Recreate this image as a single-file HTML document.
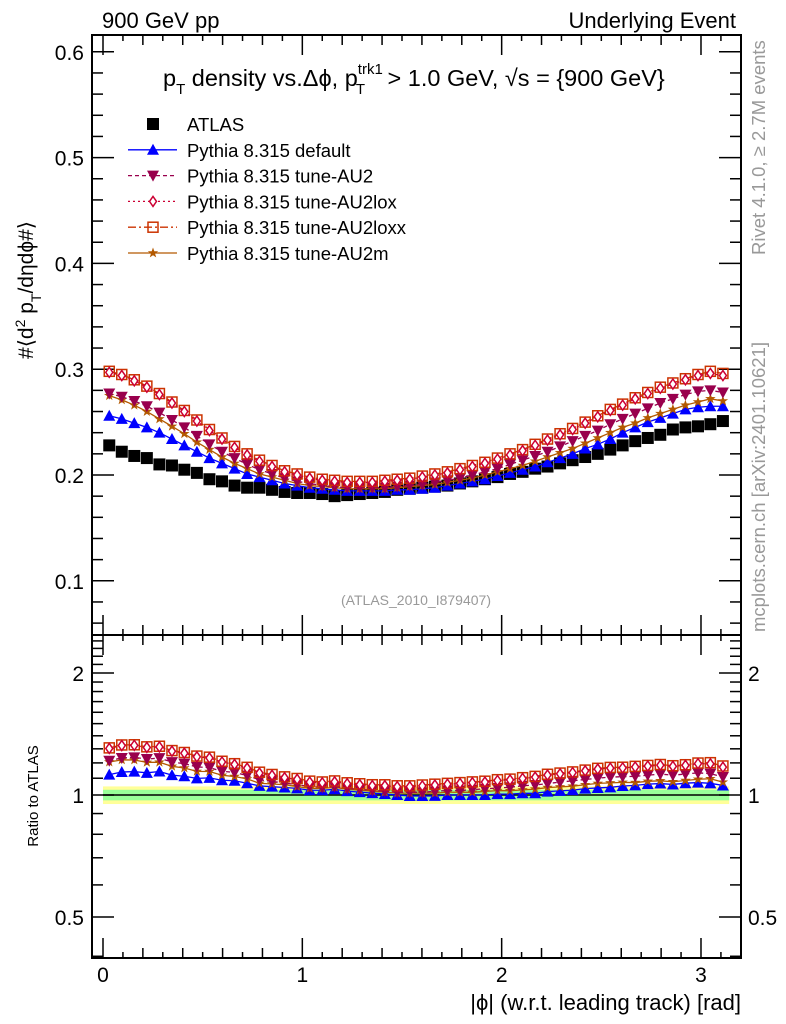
<!DOCTYPE html>
<html><head><meta charset="utf-8">
<style>
body{margin:0;background:#fff;}
svg{display:block;font-family:"Liberation Sans",sans-serif;}
</style></head>
<body>
<svg id="c" width="786" height="1024" viewBox="0 0 786 1024" xmlns="http://www.w3.org/2000/svg"></svg>
<script>
const categories = [0.0314,0.0942,0.157,0.22,0.283,0.346,0.408,0.471,0.534,0.597,0.66,0.723,0.785,0.848,0.911,0.974,1.037,1.1,1.162,1.225,1.288,1.351,1.414,1.476,1.539,1.602,1.665,1.728,1.791,1.853,1.916,1.979,2.042,2.105,2.168,2.23,2.293,2.356,2.419,2.482,2.545,2.607,2.67,2.733,2.796,2.859,2.922,2.985,3.047,3.11];
const atlas = [0.228,0.222,0.218,0.216,0.210,0.209,0.205,0.202,0.196,0.194,0.190,0.188,0.188,0.186,0.184,0.183,0.183,0.182,0.180,0.181,0.182,0.183,0.184,0.186,0.187,0.188,0.189,0.190,0.192,0.194,0.196,0.198,0.201,0.203,0.206,0.208,0.211,0.214,0.217,0.220,0.224,0.228,0.232,0.235,0.238,0.243,0.245,0.246,0.248,0.251];
const pyDefault = [0.256,0.253,0.249,0.245,0.240,0.234,0.228,0.222,0.216,0.211,0.206,0.201,0.198,0.195,0.192,0.190,0.188,0.187,0.186,0.185,0.185,0.185,0.185,0.186,0.186,0.187,0.188,0.190,0.192,0.194,0.196,0.199,0.202,0.205,0.208,0.212,0.216,0.220,0.225,0.229,0.234,0.240,0.245,0.250,0.254,0.258,0.262,0.264,0.265,0.265];
const pyAU2 = [0.277,0.274,0.270,0.265,0.259,0.252,0.245,0.237,0.229,0.222,0.216,0.210,0.205,0.201,0.197,0.194,0.192,0.190,0.189,0.188,0.188,0.188,0.188,0.189,0.190,0.191,0.193,0.195,0.197,0.200,0.203,0.206,0.210,0.214,0.218,0.222,0.227,0.232,0.237,0.242,0.248,0.253,0.258,0.263,0.268,0.272,0.276,0.279,0.280,0.278];
const pyAU2lox = [0.297,0.294,0.289,0.283,0.276,0.268,0.260,0.251,0.242,0.234,0.226,0.219,0.213,0.208,0.203,0.200,0.197,0.195,0.194,0.193,0.193,0.193,0.194,0.195,0.196,0.198,0.200,0.202,0.205,0.208,0.211,0.215,0.219,0.223,0.228,0.233,0.238,0.243,0.249,0.255,0.261,0.266,0.272,0.277,0.282,0.286,0.290,0.294,0.296,0.294];
const pyAU2loxx = [0.298,0.295,0.290,0.284,0.277,0.269,0.261,0.252,0.243,0.235,0.227,0.220,0.214,0.209,0.204,0.201,0.198,0.196,0.195,0.194,0.194,0.194,0.195,0.196,0.197,0.199,0.201,0.203,0.206,0.209,0.212,0.216,0.220,0.224,0.229,0.234,0.239,0.244,0.250,0.256,0.262,0.267,0.273,0.278,0.283,0.287,0.291,0.295,0.298,0.296];
const pyAU2m = [0.275,0.271,0.266,0.260,0.253,0.246,0.239,0.231,0.224,0.217,0.211,0.206,0.201,0.198,0.195,0.192,0.190,0.189,0.188,0.187,0.187,0.187,0.187,0.188,0.189,0.190,0.191,0.193,0.195,0.197,0.200,0.203,0.206,0.209,0.213,0.217,0.221,0.225,0.230,0.235,0.240,0.245,0.249,0.254,0.258,0.262,0.266,0.269,0.272,0.270];
const xTicks = [0,1,2,3];
const yTicks = [0.1,0.2,0.3,0.4,0.5,0.6];
const rTicks = [0.5,1,2];

const NS="http://www.w3.org/2000/svg";
const svg=document.getElementById('c');
function mk(tag,attrs,parent){const e=document.createElementNS(NS,tag);for(const k in attrs)e.setAttribute(k,attrs[k]);(parent||svg).appendChild(e);return e;}
const L=92,R=741,T=35,MB=635,RB=958;
const X=v=>103+(v)*199.33;
const Y=v=>475-(v-0.2)*1058;
const RY=v=>795-Math.log2(v)*122;

const yb=mk('rect',{x:X(0),y:RY(1.05),width:X(3.1416)-X(0),height:RY(0.95)-RY(1.05),fill:'#ffff99'});


const gb=mk('rect',{x:X(0),y:RY(1.03),width:X(3.1416)-X(0),height:RY(0.97)-RY(1.03),fill:'#99ff99'});


const one=mk('line',{x1:X(0),x2:X(3.1416),y1:RY(1),y2:RY(1),stroke:'#000','stroke-width':1.5});



const f1=mk('rect',{x:L,y:T,width:R-L,height:MB-T,fill:'none',stroke:'#000','stroke-width':2});


const f2=mk('rect',{x:L,y:MB,width:R-L,height:RB-MB,fill:'none',stroke:'#000','stroke-width':2});



function xt(y0,dir){for(let i=0;i<=32;i++){const v=i/10;const x=X(v);const len=i%10==0?20:(i%2==0?10:6);
 mk('line',{x1:x,x2:x,y1:y0,y2:y0+dir*len,stroke:'#000','stroke-width':1.5});}}
xt(T,1);xt(MB,-1);xt(MB,1);xt(RB,-1);
for(let i=3;i<=30;i++){const v=i/50;const y=Y(v);if(y<T||y>MB)continue;const len=i%5==0?22:11;
 mk('line',{x1:L,x2:L+len,y1:y,y2:y,stroke:'#000','stroke-width':1.5});
 mk('line',{x1:R,x2:R-len,y1:y,y2:y,stroke:'#000','stroke-width':1.5});}
const rminor=[0.4,0.5,0.6,0.7,0.8,0.9,1,1.1,1.2,1.3,1.4,1.5,1.6,1.7,1.8,1.9,2,2.1,2.2,2.3,2.4];
rminor.forEach(v=>{const y=RY(v);const len=rTicks.includes(v)?22:11;
 mk('line',{x1:L,x2:L+len,y1:y,y2:y,stroke:'#000','stroke-width':1.5});
 mk('line',{x1:R,x2:R-len,y1:y,y2:y,stroke:'#000','stroke-width':1.5});});

function txt(s,attrs,name){const t=mk('text',attrs);t.textContent=s;return t;}
yTicks.forEach(v=>txt(v.toFixed(1),{x:84,y:Y(v)+8,'font-size':21,'text-anchor':'end'},'y-tick-label'));
xTicks.forEach(v=>txt(String(v),{x:X(v),y:982,'font-size':21,'text-anchor':'middle'},'x-tick-label'));
rTicks.forEach(v=>{txt(String(v),{x:84,y:RY(v)+8,'font-size':21,'text-anchor':'end'},'ratio-tick-label-left');
 txt(String(v),{x:748,y:RY(v)+8,'font-size':21},'ratio-tick-label-right');});

function marker(kind,x,y,col,g){
 if(kind==='sq') mk('rect',{x:x-6,y:y-6,width:12,height:12,fill:col},g);
 else if(kind==='tu') mk('polygon',{points:`${x},${y-6} ${x-6},${y+5} ${x+6},${y+5}`,fill:col},g);
 else if(kind==='td') mk('polygon',{points:`${x},${y+6} ${x-6},${y-5} ${x+6},${y-5}`,fill:col},g);
 else if(kind==='di') mk('polygon',{points:`${x},${y-5} ${x-3.5},${y} ${x},${y+5} ${x+3.5},${y}`,fill:'#fff',stroke:col,'stroke-width':1.5},g);
 else if(kind==='os') mk('rect',{x:x-5,y:y-5,width:10,height:10,fill:'none',stroke:col,'stroke-width':1.5},g);
 else if(kind==='st'){let p=[];for(let i=0;i<10;i++){const r=i%2?2.2:5.5,a=-Math.PI/2+i*Math.PI/5;p.push((x+r*Math.cos(a)).toFixed(1)+','+(y+r*Math.sin(a)).toFixed(1));}mk('polygon',{points:p.join(' '),fill:col},g);}
}
const series=[
 {d:pyDefault,c:'#0000ff',m:'tu',dash:'',n:'series-pythia-default'},
 {d:pyAU2m,c:'#b35900',m:'st',dash:'',n:'series-pythia-au2m'},
 {d:pyAU2,c:'#99004d',m:'td',dash:'4,3',n:'series-pythia-au2'},
 {d:pyAU2loxx,c:'#cc3300',m:'os',dash:'8,3,2,3',n:'series-pythia-au2loxx'},
 {d:pyAU2lox,c:'#cc0033',m:'di',dash:'2,3',n:'series-pythia-au2lox'},
];
const ga=mk('g',{});


atlas.forEach((v,i)=>marker('sq',X(categories[i]),Y(v),'#000',ga));
series.forEach(s=>{
 const g=mk('g',{});
 
 
 mk('polyline',{points:s.d.map((v,i)=>X(categories[i])+','+Y(v)).join(' '),fill:'none',stroke:s.c,'stroke-width':1.3,'stroke-dasharray':s.dash},g);
 s.d.forEach((v,i)=>marker(s.m,X(categories[i]),Y(v),s.c,g));
 const gr=mk('g',{});
 
 
 mk('polyline',{points:s.d.map((v,i)=>X(categories[i])+','+RY(v/atlas[i])).join(' '),fill:'none',stroke:s.c,'stroke-width':1.3,'stroke-dasharray':s.dash},gr);
 s.d.forEach((v,i)=>marker(s.m,X(categories[i]),RY(v/atlas[i]),s.c,gr));
});

const leg=[['ATLAS','sq','#000',''],['Pythia 8.315 default','tu','#0000ff',''],['Pythia 8.315 tune-AU2','td','#99004d','4,3'],['Pythia 8.315 tune-AU2lox','di','#cc0033','2,3'],['Pythia 8.315 tune-AU2loxx','os','#cc3300','8,3,2,3'],['Pythia 8.315 tune-AU2m','st','#b35900','']];
leg.forEach((e,i)=>{const y=124+i*25.8;const g=mk('g',{});
 
 
 if(i>0) mk('line',{x1:128,x2:177,y1:y,y2:y,stroke:e[2],'stroke-width':1.3,'stroke-dasharray':e[3]},g);
 marker(e[1],153,y,e[2],g);
 const t=mk('text',{x:187,y:y+7,'font-size':18.5},g);t.textContent=e[0];});

txt('900 GeV pp',{x:102,y:28,'font-size':22},'top-left-label');
txt('Underlying Event',{x:736,y:28,'font-size':22,'text-anchor':'end'},'top-right-label');
const title=txt('',{x:163,y:86,'font-size':23.5},'plot-title');
title.innerHTML='p<tspan dy="8" font-size="15">T</tspan><tspan dy="-8"> density vs.Δϕ, p</tspan><tspan dy="-12" font-size="15">trk1</tspan><tspan dx="-27" dy="20" font-size="15">T</tspan><tspan dx="16" dy="-8"> &gt; 1.0 GeV, √s = {900 GeV}</tspan>';
const yl=txt('',{transform:'translate(33,290) rotate(-90)','font-size':21,'text-anchor':'middle'},'y-axis-title');
yl.innerHTML='#⟨d<tspan dy="-8" font-size="14">2</tspan><tspan dy="8"> p</tspan><tspan dy="8" font-size="14">T</tspan><tspan dy="-8">/dηdϕ#⟩</tspan>';
txt('Ratio to ATLAS',{transform:'translate(38,796) rotate(-90)','font-size':15,'text-anchor':'middle'},'ratio-axis-title');
txt('|ϕ| (w.r.t. leading track) [rad]',{x:741,y:1010,'font-size':22,'text-anchor':'end'},'x-axis-title');
txt('(ATLAS_2010_I879407)',{x:416,y:605,'font-size':14,fill:'#999','text-anchor':'middle'},'analysis-id');
txt('Rivet 4.1.0, ≥ 2.7M events',{transform:'translate(765,255) rotate(-90)','font-size':18.5,fill:'#999'},'rivet-version-label');
txt('mcplots.cern.ch [arXiv:2401.10621]',{transform:'translate(765,632) rotate(-90)','font-size':18.5,fill:'#999'},'mcplots-label');
</script>
</body></html>
